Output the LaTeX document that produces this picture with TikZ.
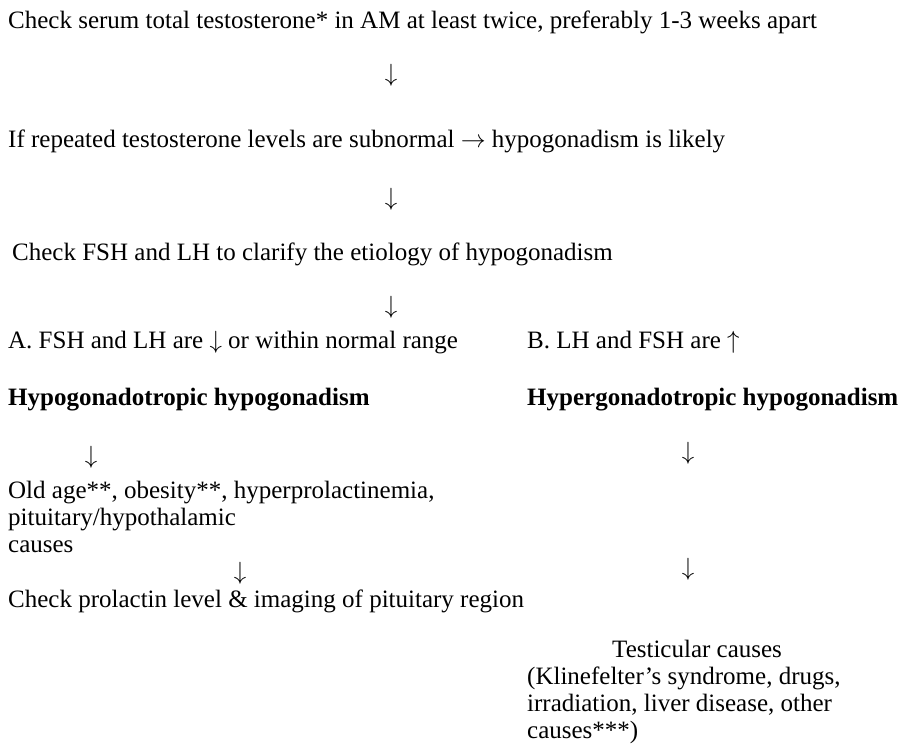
\documentclass[tikz,border=0pt]{standalone}
\usepackage{fontspec}
\setmainfont{Liberation Serif}
\begin{document}
\begin{tikzpicture}[x=1pt,y=-1pt,
  txt/.style={anchor=base west, inner sep=0pt, font=\fontsize{25}{28}\selectfont},
  arr/.style={anchor=center, inner sep=0pt, font=\fontsize{25}{28}\selectfont}]
\useasboundingbox (0,0) rectangle (903,750);
\node[txt] (t1) at (8,28) {Check serum total testosterone* in AM at least twice, preferably 1-3 weeks apart};
\node[arr] (a1) at (391,75) {$\downarrow$};
\node[txt] (t2) at (8,147) {If repeated testosterone levels are subnormal $\rightarrow$ hypogonadism is likely};
\node[arr] (a2) at (391,199) {$\downarrow$};
\node[txt] (t3) at (12,260) {Check FSH and LH to clarify the etiology of hypogonadism};
\node[arr] (a3) at (391,307) {$\downarrow$};
\node[txt] (tA) at (8,348) {A. FSH and LH are $\downarrow$ or within normal range};
\node[txt] (tB) at (527,348) {B. LH and FSH are $\uparrow$};
\node[txt] (hA) at (8,405) {\bfseries Hypogonadotropic hypogonadism};
\node[txt] (hB) at (527,405) {\bfseries Hypergonadotropic hypogonadism};
\node[arr] (aL1) at (91,457) {$\downarrow$};
\node[arr] (aR1) at (688,453) {$\downarrow$};
\node[txt] (c1) at (8,498) {Old age**, obesity**, hyperprolactinemia,};
\node[txt] (c2) at (8,525) {pituitary/hypothalamic};
\node[txt] (c3) at (8,552) {causes};
\node[arr] (aL2) at (240,573) {$\downarrow$};
\node[arr] (aR2) at (688,569) {$\downarrow$};
\node[txt] (p1) at (8,607) {Check prolactin level \& imaging of pituitary region};
\node[txt] (s0) at (612,657) {Testicular causes};
\node[txt] (s1) at (527,684) {(Klinefelter’s syndrome, drugs,};
\node[txt] (s2) at (527,711) {irradiation, liver disease, other};
\node[txt] (s3) at (527,738) {causes***)};
\end{tikzpicture}
\end{document}
